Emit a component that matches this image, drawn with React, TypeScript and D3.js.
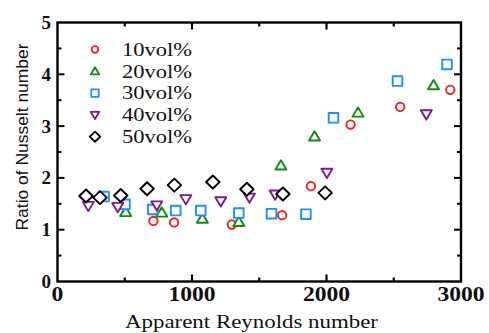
import React from "react";
import * as d3 from "d3";

// Apparent Reynolds number (x) and Nusselt number ratio (y) per concentration
const re10 = [713, 867, 1296, 1670, 1884, 2179, 2548, 2920];
const nu10 = [1.17, 1.14, 1.1, 1.28, 1.84, 3.03, 3.37, 3.7];
const re20 = [507, 775, 1077, 1348, 1661, 1911, 2234, 2796];
const nu20 = [1.34, 1.33, 1.21, 1.15, 2.24, 2.8, 3.26, 3.79];
const re30 = [346, 502, 708, 879, 1065, 1348, 1591, 1847, 2052, 2528, 2896];
const nu30 = [1.64, 1.49, 1.39, 1.37, 1.37, 1.32, 1.31, 1.3, 3.16, 3.87, 4.19];
const re40 = [229, 448, 738, 954, 1214, 1427, 1618, 2003, 2742];
const nu40 = [1.46, 1.44, 1.47, 1.59, 1.55, 1.62, 1.68, 2.1, 3.23];
const re50 = [212, 316, 470, 666, 869, 1155, 1408, 1676, 1990];
const nu50 = [1.65, 1.62, 1.66, 1.79, 1.86, 1.92, 1.78, 1.69, 1.71];

const seriesNames = ["10vol%", "20vol%", "30vol%", "40vol%", "50vol%"];
const xTicks = [0, 1000, 2000, 3000];
const yTicks = [0, 1, 2, 3, 4, 5];

type Shape = "circle" | "up" | "square" | "down" | "diamond";

const series = [
  { name: seriesNames[0], x: re10, y: nu10, color: "#ff1a1a", shape: "circle" as Shape },
  { name: seriesNames[1], x: re20, y: nu20, color: "#108a10", shape: "up" as Shape },
  { name: seriesNames[2], x: re30, y: nu30, color: "#1e8fff", shape: "square" as Shape },
  { name: seriesNames[3], x: re40, y: nu40, color: "#7d1a8c", shape: "down" as Shape },
  { name: seriesNames[4], x: re50, y: nu50, color: "#000000", shape: "diamond" as Shape },
];

function markerPath(shape: Shape, r: number): string {
  const p = d3.path();
  if (shape === "circle") {
    p.moveTo(r, 0);
    p.arc(0, 0, r, 0, Math.PI * 2);
  } else if (shape === "square") {
    p.rect(-r, -r, 2 * r, 2 * r);
  } else if (shape === "up") {
    p.moveTo(0, -r * 1.05);
    p.lineTo(r * 1.1, r * 0.8);
    p.lineTo(-r * 1.1, r * 0.8);
  } else if (shape === "down") {
    p.moveTo(0, r * 1.05);
    p.lineTo(r * 1.1, -r * 0.8);
    p.lineTo(-r * 1.1, -r * 0.8);
  } else {
    p.moveTo(0, -r * 1.3);
    p.lineTo(r * 1.35, 0);
    p.lineTo(0, r * 1.3);
    p.lineTo(-r * 1.35, 0);
  }
  p.closePath();
  return p.toString();
}

const markerR: Record<Shape, number> = {
  circle: 4.2,
  up: 5,
  square: 4.8,
  down: 5,
  diamond: 5,
};

export default function App() {
  const W = 489;
  const H = 333;
  const left = 57.5;
  const right = 461;
  const top = 22.5;
  const bottom = 281.5;

  const x = d3.scaleLinear().domain([0, 3000]).range([left, right]);
  const y = d3.scaleLinear().domain([0, 5]).range([bottom, top]);

  const xMinor = d3.range(500, 3000, 1000);
  const yMinor = d3.range(0.5, 5, 1);

  const serif = "'Liberation Serif', 'Times New Roman', serif";
  const sans = "'Liberation Sans', Arial, sans-serif";

  return (
    <svg
      width={W}
      height={H}
      style={{ position: "absolute", left: 0, top: 0, background: "#fff" }}
    >
      {/* data markers */}
      {series.map((s) => (
        <g key={s.name}>
          {s.x.map((v, i) => (
            <path
              key={i}
              d={markerPath(s.shape, markerR[s.shape])}
              transform={`translate(${x(v)},${y(s.y[i])})`}
              fill="#fff"
              stroke={s.color}
              strokeWidth={1.9}
              strokeLinejoin="round"
            />
          ))}
        </g>
      ))}

      {/* frame */}
      <rect
        x={left}
        y={top}
        width={right - left}
        height={bottom - top}
        fill="none"
        stroke="#000"
        strokeWidth={2.4}
      />

      {/* x ticks bottom and top */}
      {xTicks.slice(1, -1).map((t) => (
        <g key={"xt" + t}>
          <line x1={x(t)} x2={x(t)} y1={bottom} y2={bottom - 7} stroke="#000" strokeWidth={2.2} />
          <line x1={x(t)} x2={x(t)} y1={top} y2={top + 7} stroke="#000" strokeWidth={2.2} />
        </g>
      ))}
      {xMinor.map((t) => (
        <g key={"xm" + t}>
          <line x1={x(t)} x2={x(t)} y1={bottom} y2={bottom - 4} stroke="#000" strokeWidth={2.2} />
          <line x1={x(t)} x2={x(t)} y1={top} y2={top + 4} stroke="#000" strokeWidth={2.2} />
        </g>
      ))}

      {/* y ticks left and right */}
      {yTicks.slice(1, -1).map((t) => (
        <g key={"yt" + t}>
          <line x1={left} x2={left + 7} y1={y(t)} y2={y(t)} stroke="#000" strokeWidth={2} />
          <line x1={right} x2={right - 7} y1={y(t)} y2={y(t)} stroke="#000" strokeWidth={2} />
        </g>
      ))}
      {yMinor.map((t) => (
        <g key={"ym" + t}>
          <line x1={left} x2={left + 4} y1={y(t)} y2={y(t)} stroke="#000" strokeWidth={2} />
          <line x1={right} x2={right - 4} y1={y(t)} y2={y(t)} stroke="#000" strokeWidth={2} />
        </g>
      ))}

      {/* x tick labels */}
      {xTicks.map((t) => {
        const label = String(t);
        return (
          <text
            key={"xl" + t}
            x={x(t)}
            y={301}
            textAnchor="middle"
            fontFamily={serif}
            fontSize={20}
            fontWeight="bold"
            fill="#111"
            textLength={label.length * 11.8}
            lengthAdjust="spacingAndGlyphs"
          >
            {label}
          </text>
        );
      })}

      {/* y tick labels */}
      {yTicks.map((t) => (
        <text
          key={"yl" + t}
          x={51}
          y={y(t) + 6.5}
          textAnchor="end"
          fontFamily={serif}
          fontSize={19}
          fontWeight="bold"
          fill="#111"
        >
          {t}
        </text>
      ))}

      {/* axis titles */}
      <text
        x={251.5}
        y={327.5}
        textAnchor="middle"
        fontFamily={serif}
        fontSize={19}
        fill="#111"
        textLength={253}
        lengthAdjust="spacingAndGlyphs"
      >
        Apparent Reynolds number
      </text>
      <text
        transform={`translate(28,137) rotate(-90)`}
        textAnchor="middle"
        fontFamily={sans}
        fontSize={17}
        fill="#111"
        textLength={187}
        lengthAdjust="spacingAndGlyphs"
      >
        Ratio of Nusselt number
      </text>

      {/* legend */}
      {series.map((s, i) => {
        const cy = 49.5 + i * 21.8;
        return (
          <g key={"lg" + s.name}>
            <path
              d={markerPath(s.shape, markerR[s.shape] * 0.78)}
              transform={`translate(95,${cy})`}
              fill="#fff"
              stroke={s.color}
              strokeWidth={1.8}
              strokeLinejoin="round"
            />
            <text
              x={122}
              y={cy + 6.3}
              fontFamily={serif}
              fontSize={19}
              fill="#111"
              textLength={70}
              lengthAdjust="spacingAndGlyphs"
            >
              {s.name}
            </text>
          </g>
        );
      })}
    </svg>
  );
}
